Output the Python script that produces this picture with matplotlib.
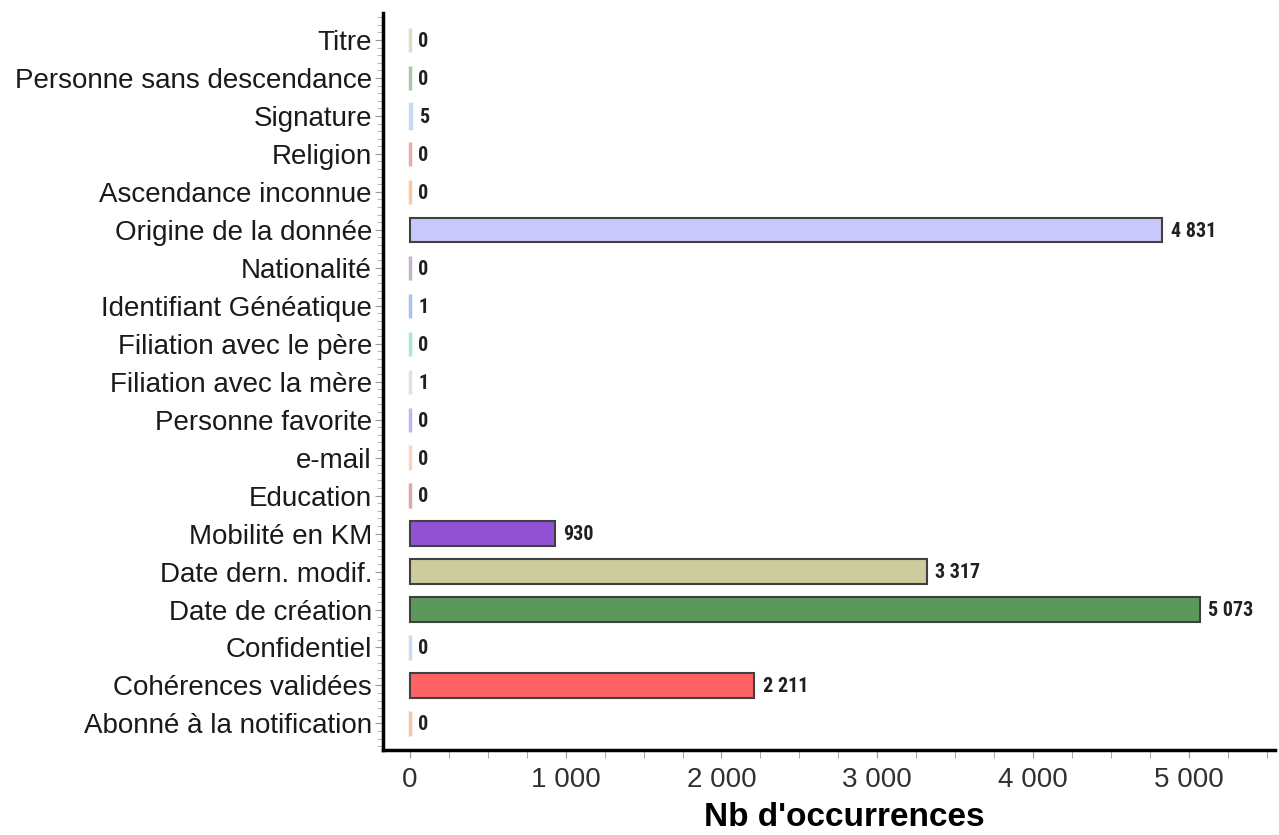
import matplotlib
matplotlib.use("Agg")
import matplotlib.pyplot as plt
from matplotlib import font_manager
from matplotlib.ticker import MultipleLocator, FuncFormatter

# categories listed bottom -> top
categories = ["Abonné à la notification", "Cohérences validées", "Confidentiel",
              "Date de création", "Date dern. modif.", "Mobilité en KM", "Education",
              "e-mail", "Personne favorite", "Filiation avec la mère",
              "Filiation avec le père", "Identifiant Généatique", "Nationalité",
              "Origine de la donnée", "Ascendance inconnue", "Religion", "Signature",
              "Personne sans descendance", "Titre"]
values = [0, 2211, 0, 5073, 3317, 930, 0, 0, 0, 1, 0, 1, 0, 4831, 0, 0, 5, 0, 0]
colors = ["#f6c6a8", "#ff6262", "#c6dcf2", "#5c985c", "#cccc9c", "#9052d2", "#d8aaaa",
          "#f8d6c6", "#c2b2f2", "#e0e0e8", "#a8e8d2", "#a8c2ea", "#c4b2c8",
          "#c8c8fc", "#f8c8a8", "#f2a8a8", "#c8daf2", "#a8c6a8", "#e2dcc2"]

plt.rcParams['font.family'] = ['Liberation Sans', 'DejaVu Sans']

# condensed face for the value labels, if one is installed
names = {f.name for f in font_manager.fontManager.ttflist}
narrow = [n for n in ["Roboto Condensed", "Liberation Sans Narrow"]
          if n in names] + ["Liberation Sans"]

fig = plt.figure(figsize=(12.79, 8.35), dpi=100)
ax = fig.add_axes([0.2995, 0.1018, 0.6975, 0.8826])

ypos = list(range(len(categories)))
big = [v > 50 for v in values]
edges = ["#404040" if b else c for b, c in zip(big, colors)]
lws = [1.5 if b else 2.5 for b in big]
ax.barh(ypos, values, height=0.64, color=colors, edgecolor=edges, linewidth=lws)

def fmt(v):
    return f"{v:,}".replace(",", " ")

for y, v in zip(ypos, values):
    ax.annotate(fmt(v), xy=(v, y), xytext=(6, -1), textcoords="offset points",
                va="center", ha="left", fontsize=14.5, fontweight="bold",
                family=narrow, color="#202020")

ax.set_yticks(ypos)
ax.set_yticklabels(categories, fontsize=20, color="#1a1a1a")
ax.set_ylim(-0.70, 18.71)
ax.set_xlim(-173, 5555)

ax.xaxis.set_major_locator(MultipleLocator(1000))
ax.xaxis.set_minor_locator(MultipleLocator(250))
ax.xaxis.set_major_formatter(FuncFormatter(lambda x, p: fmt(int(x))))
ax.yaxis.set_minor_locator(MultipleLocator(0.2))

ax.tick_params(axis="x", which="both", direction="out", color="#999999", length=6,
               labelsize=20, labelcolor="#303030", pad=6)
ax.tick_params(axis="y", which="major", direction="out", color="#999999", length=6, pad=2)
ax.tick_params(axis="y", which="minor", direction="out", color="#aaaaaa", length=4)

for s in ["top", "right"]:
    ax.spines[s].set_visible(False)
for s in ["left", "bottom"]:
    ax.spines[s].set_linewidth(2.5)
    ax.spines[s].set_color("black")

ax.set_xlabel("Nb d'occurrences", fontsize=24, fontweight="bold", labelpad=7, x=0.517)

fig.savefig("out.png", dpi=100)
